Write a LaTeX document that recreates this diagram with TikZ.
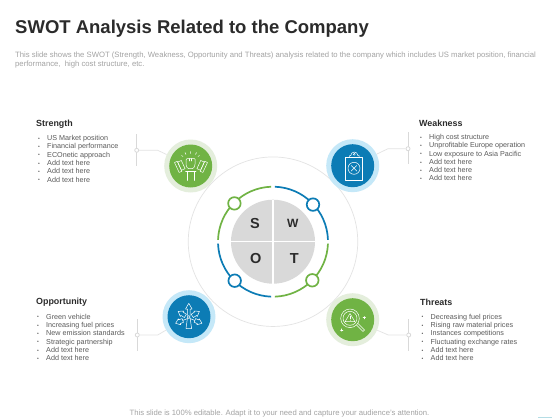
\documentclass[tikz,border=0pt]{standalone}
\usepackage{fontspec}
\setmainfont{Liberation Sans}
\definecolor{cgreen}{HTML}{70B344}
\definecolor{cgreenl}{HTML}{E4EEDC}
\definecolor{cblue}{HTML}{0C7CB5}
\definecolor{cbluel}{HTML}{C5E8F8}
\definecolor{cpie}{HTML}{D9D9D9}
\definecolor{cline}{HTML}{E3E3E3}
\definecolor{cbar}{HTML}{D9D9D9}
\definecolor{ctitle}{HTML}{2B2B2B}
\definecolor{ctext}{HTML}{5A5A5A}
\definecolor{cdesc}{HTML}{A3A3A3}
\definecolor{cmark}{HTML}{B5DDE5}
\newcommand{\bitem}[1]{\makebox[9pt][l]{\raisebox{.3pt}{\scalebox{.7}{•}}}#1}
\tikzset{
  listtext/.style={anchor=north west,inner sep=0pt,align=left,text=ctext,font=\fontsize{7.2}{8.3}\selectfont},
  headtext/.style={anchor=west,inner sep=0pt,text=ctitle,font=\fontsize{8.9}{10}\selectfont\bfseries},
  desctext/.style={anchor=north west,inner sep=0pt,align=left,text=cdesc,font=\fontsize{7.7}{9.5}\selectfont},
  letter/.style={inner sep=0pt,text=ctitle,font=\fontsize{14.5}{14.5}\selectfont\bfseries},
  iconouter/.style={circle,inner sep=0pt,minimum size=53pt},
  iconinner/.style={circle,inner sep=0pt,minimum size=43pt},
  smalldot/.style={circle,draw,fill=white,line width=1.7pt,inner sep=0pt,minimum size=12.5pt},
  ringarc/.style={line width=1.7pt},
  bar/.style={draw=cbar,line width=1pt},
  leader/.style={draw=cline,line width=.7pt},
  tick/.style={circle,draw=cbar,fill=white,line width=.8pt,inner sep=0pt,minimum size=4pt},
  icon/.style={draw=white,line width=.5pt,line join=round,line cap=round},
}
\begin{document}
\begin{tikzpicture}[x=1pt,y=-1pt]
\useasboundingbox (0,0) rectangle (560,420);
\fill[white] (0,0) rectangle (560,420);
\fill[cmark] (538,416.8) rectangle (552,418);

\node[anchor=west,inner sep=0pt,text=ctitle,font=\fontsize{18.5}{20}\selectfont\bfseries] (title) at (15,28.3) {SWOT Analysis Related to the Company};
\node[desctext] (desc) at (15,51.3) {This slide shows the SWOT (Strength, Weakness, Opportunity and Threats) analysis related to the company which includes US market position, financial\\performance,\ \ high cost structure, etc.};
\node[inner sep=0pt,text=cdesc,font=\fontsize{7.7}{9}\selectfont] (foot) at (279.5,414) {This slide is 100\% editable. Adapt it to your need and capture your audience’s attention.};

% centre
\node[circle,draw=cline,line width=.7pt,inner sep=0pt,minimum size=169.5pt] (big) at (273,241.7) {};
\node[circle,fill=cpie,inner sep=0pt,minimum size=84pt] (ctr) at (273,241.7) {};
\draw[white,line width=1.5pt] (ctr.north) -- (ctr.south);
\draw[white,line width=1.5pt] (ctr.west) -- (ctr.east);
\draw[ringarc,cgreen] (ctr) ++(178:55pt) arc[start angle=178,end angle=92,radius=55pt];
\draw[ringarc,cblue] (ctr) ++(88:55pt) arc[start angle=88,end angle=2,radius=55pt];
\draw[ringarc,cblue] (ctr) ++(182:55pt) arc[start angle=182,end angle=268,radius=55pt];
\draw[ringarc,cgreen] (ctr) ++(272:55pt) arc[start angle=272,end angle=358,radius=55pt];
\node[smalldot,draw=cgreen] (d1) at (234.4,203.4) {};
\node[smalldot,draw=cblue] (d2) at (313,204.6) {};
\node[smalldot,draw=cblue] (d3) at (234.7,280.7) {};
\node[smalldot,draw=cgreen] (d4) at (312.3,280.3) {};
\node[letter] (S) at (255,223.3) {S};
\node[letter,font=\fontsize{12}{12}\selectfont\bfseries] (W) at (292.7,223.6) {W};
\node[letter] (O) at (255.7,258.3) {O};
\node[letter] (T) at (294.3,258.3) {T};

% icon discs
\node[iconouter,fill=cgreenl] (so) at (190.7,166) {};
\node[iconinner,fill=cgreen] (si) at (190.7,166) {};
\node[iconouter,fill=cbluel] (wo) at (352.7,165.7) {};
\node[iconinner,fill=cblue] (wi) at (352.7,165.7) {};
\node[iconouter,fill=cbluel] (oo) at (189,316.7) {};
\node[iconinner,fill=cblue] (oi) at (189,316.7) {};
\node[iconouter,fill=cgreenl] (to) at (352.7,319.7) {};
\node[iconinner,fill=cgreen] (ti) at (352.7,319.7) {};

% leaders
\coordinate (s1) at (136.7,134); \coordinate (s2) at (136.7,165.7);
\coordinate (sk) at (157.7,150.3);
\coordinate (w1) at (408,132); \coordinate (w2) at (408,164);
\coordinate (wk) at (388,148.7);
\coordinate (o1) at (137.3,319.3); \coordinate (o2) at (137.3,350.7);
\coordinate (ok) at (157.7,335);
\coordinate (t1) at (408.7,319.3); \coordinate (t2) at (408.7,350.7);
\coordinate (tk) at (388.3,335);
\draw[bar] (s1) -- (s2);
\draw[bar] (w1) -- (w2);
\draw[bar] (o1) -- (o2);
\draw[bar] (t1) -- (t2);
\node[tick] (sd) at (136.7,150.3) {};
\node[tick] (wd) at (408,148.7) {};
\node[tick] (od) at (137.3,335) {};
\node[tick] (td) at (408.7,335) {};
\draw[leader] (sd) -- (sk) -- (so);
\draw[leader] (wd) -- (wk) -- (wo);
\draw[leader] (od) -- (ok) -- (oo);
\draw[leader] (td) -- (tk) -- (to);

% icons
\begin{scope}[icon]
% strength
\draw[rounded corners=1pt] (186.2,158.5) -- (195.2,158.5) -- (195,165) -- (193.5,168.5) -- (187.5,168.5) -- (186,165) -- cycle;
\draw (188.8,158.5)--(188.8,161) (191.5,158.5)--(191.5,161);
\draw (185.5,171.5) -- (196,171.5);
\draw (187,171.5) -- (187,180.5) (194.5,171.5) -- (194.5,180.5);
\draw[rotate around={25:(180,166)}] (176.5,160.5) rectangle (179.5,171.5);
\draw[rotate around={25:(180,166)}] (179.5,161.5) rectangle (183.5,170.5);
\draw[rotate around={-25:(202,166)}] (202.5,160.5) rectangle (205.5,171.5);
\draw[rotate around={-25:(202,166)}] (198.5,161.5) rectangle (202.5,170.5);
\draw (190.7,151.5)--(190.7,153.5) (185,152.5)--(186,154.5) (196.5,152.5)--(195.5,154.5) (181.5,155.5)--(183,156.5) (199.5,155.5)--(198,156.5);
% weakness
\draw (345.7,157.7) rectangle (362.7,180);
\draw (349.5,157.7) -- (349.5,155.5) -- (350.8,155.5) arc[start angle=180,end angle=0,radius=3.5pt] -- (359,155.5) -- (359,157.7) -- cycle;
\draw (354.3,154.3) circle[radius=1pt];
\draw (354,168.3) circle[radius=6pt];
\draw (351.2,165.5) -- (356.8,171.1) (356.8,165.5) -- (351.2,171.1);
% opportunity
\draw (187.6,315.5) -- (187.6,309) -- (185.5,309) -- (188.8,303.3) -- (192.1,309) -- (190,309) -- (190,315.5);
\foreach \a in {58,-58}{
  \draw[rotate around={\a:(188.8,318)}] (186.8,314) -- (186.8,310) -- (185.6,310) -- (188.8,305.5) -- (192,310) -- (190.8,310) -- (190.8,314) -- cycle;
}
\foreach \a in {112,-112}{
  \draw[rotate around={\a:(188.8,318)}] (186.8,311.5) -- (186.8,308) -- (185.6,308) -- (188.8,303.8) -- (192,308) -- (190.8,308) -- (190.8,311.5) -- cycle;
  \draw[rotate around={\a:(188.8,318)}] (188.8,317) -- (188.8,311.5);
}
\draw (188.8,317) circle[radius=1.5pt];
\draw (187.3,319) -- (186,328.5) -- (191.6,328.5) -- (190.3,319);
% threats
\draw (350,318.3) circle[radius=9.3pt];
\draw (350,318.3) circle[radius=7pt];
\draw (350,313.5) -- (354.8,321.5) -- (345.2,321.5) -- cycle;
\draw (350,316)--(350,318.8) (350,320)--(350,320.3);
\draw (356.6,325) -- (363,331.5) -- (364.6,330) -- (358,323.6);
\draw (364.3,316.5)--(364.3,318.9) (363.1,317.7)--(365.5,317.7);
\draw (341.7,328.8)--(341.7,331.2) (340.5,330)--(342.9,330);
\end{scope}

% texts
\node[headtext] (hs) at (36,124.7) {Strength};
\node[listtext] (ls) at (38,135.2) {\bitem{US Market position}\\\bitem{Financial performance}\\\bitem{ECOnetic approach}\\\bitem{Add text here}\\\bitem{Add text here}\\\bitem{Add text here}};
\node[headtext] (hw) at (419,123.2) {Weakness};
\node[listtext] (lw) at (420,134) {\bitem{High cost structure}\\\bitem{Unprofitable Europe operation}\\\bitem{Low exposure to Asia Pacific}\\\bitem{Add text here}\\\bitem{Add text here}\\\bitem{Add text here}};
\node[headtext] (ho) at (36,302.5) {Opportunity};
\node[listtext] (lo) at (37,313.7) {\bitem{Green vehicle}\\\bitem{Increasing fuel prices}\\\bitem{New emission standards}\\\bitem{Strategic partnership}\\\bitem{Add text here}\\\bitem{Add text here}};
\node[headtext] (ht) at (420,302) {Threats};
\node[listtext] (lt) at (421.5,313.7) {\bitem{Decreasing fuel prices}\\\bitem{Rising raw material prices}\\\bitem{Instances competitions}\\\bitem{Fluctuating exchange rates}\\\bitem{Add text here}\\\bitem{Add text here}};
\end{tikzpicture}
\end{document}
